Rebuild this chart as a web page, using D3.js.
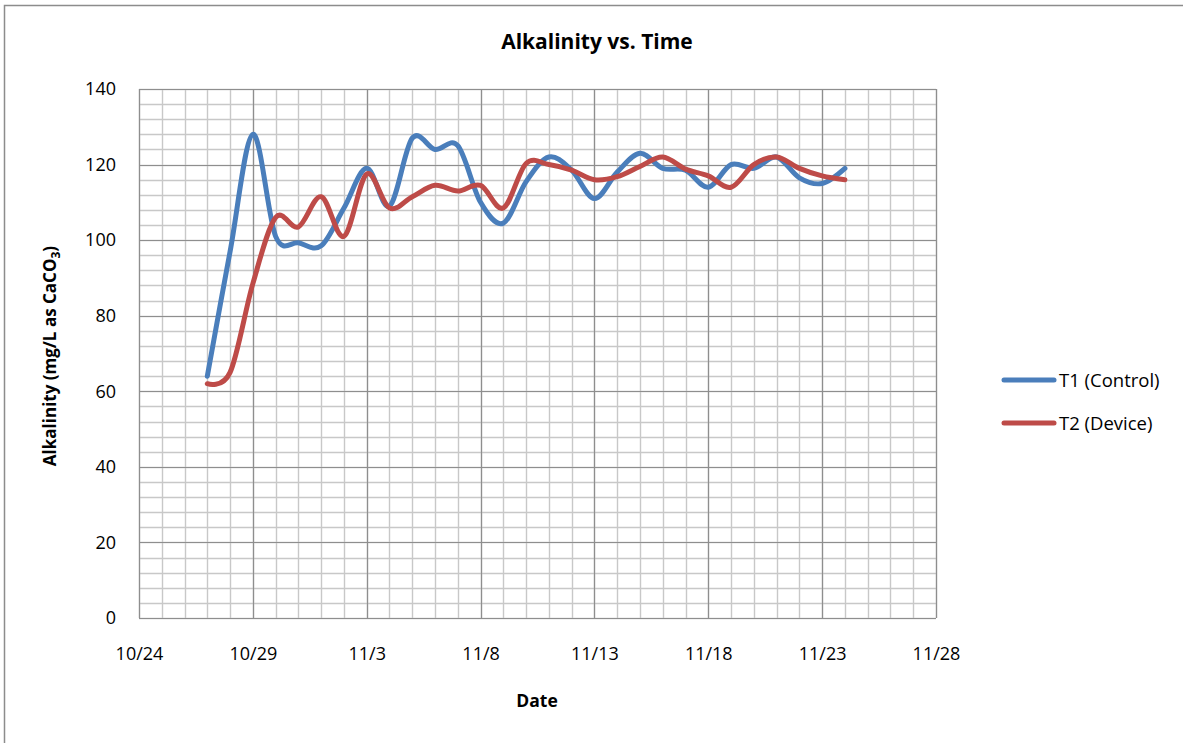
<!DOCTYPE html>
<html>
<head>
<meta charset="utf-8">
<script src="https://cdn.jsdelivr.net/npm/d3@7"></script>
<style>
body { margin: 0; background: #fff; }
svg { display: block; }
text { font-family: "Open Sans", "Noto Sans", sans-serif; fill: #000; }
</style>
</head>
<body>
<svg id="chart" width="1183" height="743"></svg>
<script>
const dates = ["10/27","10/28","10/29","10/30","10/31","11/1","11/2","11/3","11/4","11/5","11/6","11/7","11/8","11/9","11/10","11/11","11/12","11/13","11/14","11/15","11/16","11/17","11/18","11/19","11/20","11/21","11/22","11/23","11/24"];
const t1Control = [64, 97, 128, 101, 99.3, 98.5, 108.5, 119, 109, 127, 124, 125, 110, 104.5, 115.5, 122, 118.5, 111, 118, 123, 119, 118.5, 114, 120, 119, 122, 116.5, 115, 119];
const t2Device  = [62, 65, 88.5, 106, 103.5, 111.5, 101, 117.5, 108.5, 111.5, 114.5, 113, 114.5, 108.5, 120.3, 120, 118.5, 116, 116.8, 119.5, 122, 118.8, 117, 114, 120, 122, 119, 117, 116];
const xTickLabels = ["10/24","10/29","11/3","11/8","11/13","11/18","11/23","11/28"];
const yTicks = [0, 20, 40, 60, 80, 100, 120, 140];
const seriesNames = ["T1 (Control)", "T2 (Device)"];
const seriesColors = ["#4A7EBB", "#BE4B48"];

const year = 2013;
function parseMD(s) { const [m, d] = s.split("/").map(Number); return new Date(year, m - 1, d); }

const svg = d3.select("#chart");
const L = 139, R = 936, T = 89, B = 618;

svg.append("rect").attr("x", 4.5).attr("y", 5.5).attr("width", 1300).attr("height", 800)
  .attr("fill", "none").attr("stroke", "#8c8c8c").attr("stroke-width", 1.5);

const x = d3.scaleTime().domain([parseMD("10/24"), parseMD("11/28")]).range([L, R]);
const y = d3.scaleLinear().domain([0, 140]).range([B, T]);

const dayTicks = d3.timeDay.range(parseMD("10/24"), d3.timeDay.offset(parseMD("11/28"), 1));
const g = svg.append("g");
g.selectAll("line.vmin").data(dayTicks).join("line")
  .attr("x1", d => Math.round(x(d)) + 0.5).attr("x2", d => Math.round(x(d)) + 0.5)
  .attr("y1", T).attr("y2", B).attr("stroke", "#c8c8c8").attr("stroke-width", 1.4);
const minorY = d3.range(0, 141, 4);
g.selectAll("line.hmin").data(minorY).join("line")
  .attr("y1", d => Math.round(y(d)) + 0.5).attr("y2", d => Math.round(y(d)) + 0.5)
  .attr("x1", L).attr("x2", R).attr("stroke", "#c8c8c8").attr("stroke-width", 1.4);
const majorDates = xTickLabels.map(parseMD);
g.selectAll("line.vmaj").data(majorDates).join("line")
  .attr("x1", d => Math.round(x(d)) + 0.5).attr("x2", d => Math.round(x(d)) + 0.5)
  .attr("y1", T).attr("y2", B).attr("stroke", "#8e8e8e").attr("stroke-width", 1.2);
g.selectAll("line.hmaj").data(yTicks).join("line")
  .attr("y1", d => Math.round(y(d)) + 0.5).attr("y2", d => Math.round(y(d)) + 0.5)
  .attr("x1", L).attr("x2", R).attr("stroke", "#8e8e8e").attr("stroke-width", 1.2);

const xAxis = d3.axisBottom(x).tickValues(majorDates).tickFormat(d => (d.getMonth() + 1) + "/" + d.getDate()).tickSize(0).tickPadding(29);
const xa = svg.append("g").attr("transform", `translate(0,${B})`).call(xAxis);
xa.select(".domain").remove();
xa.selectAll("text").attr("font-size", 18).style("font-family", "Open Sans, sans-serif").attr("fill", "#000");

const yAxis = d3.axisLeft(y).tickValues(yTicks).tickSize(0).tickPadding(23);
const ya = svg.append("g").attr("transform", `translate(${L},0)`).call(yAxis);
ya.select(".domain").remove();
ya.selectAll("text").attr("font-size", 18).style("font-family", "Open Sans, sans-serif").attr("fill", "#000");

const line = d3.line().x(d => x(d[0])).y(d => y(d[1])).curve(d3.curveCatmullRom.alpha(0));
[t1Control, t2Device].forEach((vals, i) => {
  const pts = dates.map((dt, j) => [parseMD(dt), vals[j]]);
  svg.append("path").datum(pts).attr("d", line)
    .attr("fill", "none").attr("stroke", seriesColors[i]).attr("stroke-width", 5)
    .attr("stroke-linecap", "round").attr("stroke-linejoin", "round");
});

svg.append("text").attr("x", 597).attr("y", 49).attr("text-anchor", "middle")
  .attr("font-size", 21).attr("font-weight", "bold").text("Alkalinity vs. Time");
svg.append("text").attr("x", 537).attr("y", 707).attr("text-anchor", "middle")
  .attr("font-size", 17.5).attr("font-weight", "bold").text("Date");
const yl = svg.append("text").attr("transform", "translate(56,356) rotate(-90)").attr("text-anchor", "middle")
  .attr("font-size", 17).attr("font-weight", "bold");
yl.append("tspan").text("Alkalinity (mg/L as CaCO");
yl.append("tspan").attr("font-size", 12).attr("dy", 4).text("3");
yl.append("tspan").attr("dy", -4).text(")");

const lg = svg.append("g");
seriesNames.forEach((name, i) => {
  const yy = 380 + i * 43;
  lg.append("line").attr("x1", 1004).attr("x2", 1054).attr("y1", yy).attr("y2", yy)
    .attr("stroke", seriesColors[i]).attr("stroke-width", 5).attr("stroke-linecap", "round");
  lg.append("text").attr("x", 1059).attr("y", yy + 7).attr("font-size", 18.5).text(name);
});
</script>
</body>
</html>
